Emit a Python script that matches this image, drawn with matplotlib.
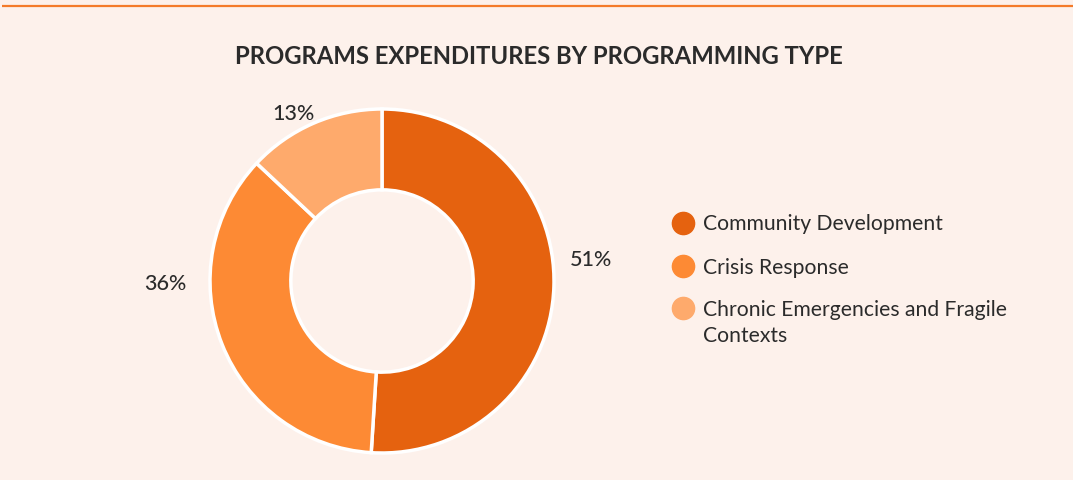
import matplotlib
matplotlib.use("Agg")
import matplotlib.pyplot as plt

# Programme expenditure shares by programming type
categories = ["Community Development", "Crisis Response",
              "Chronic Emergencies and Fragile\nContexts"]
shares = [51, 36, 13]
colors = ["#E5620F", "#FD8A34", "#FEAA6C"]

BG = "#FDF1EB"
TEXT = "#2B2B2B"

plt.rcParams["font.family"] = ["Lato", "DejaVu Sans"]

W, H = 1073, 480
fig = plt.figure(figsize=(W / 100, H / 100), dpi=100, facecolor=BG)

# Donut axes: centre (382, 281) px, outer radius 172 px
cx, cy, r = 382, 281, 172
ax = fig.add_axes([(cx - r) / W, (H - cy - r) / H, 2 * r / W, 2 * r / H])
ax.set_facecolor("none")
wedges, _ = ax.pie(shares, colors=colors, startangle=90, counterclock=False,
                   radius=1.0,
                   wedgeprops=dict(width=0.47, edgecolor="white", linewidth=2.5))
ax.set_xlim(-1, 1)
ax.set_ylim(-1, 1)
ax.set_aspect("equal")
ax.axis("off")

# Percentage labels outside the ring
label_pos = [(1.215, 0.122), (-1.262, -0.020), (-0.517, 0.972)]
for v, (lx, ly) in zip(shares, label_pos):
    ax.text(lx, ly, f"{v}%", ha="center", va="center", fontsize=15.5,
            fontweight="medium", color=TEXT, clip_on=False)

# Overlay in pixel coordinates for title, rule and legend
ov = fig.add_axes([0, 0, 1, 1], zorder=-1)
ov.set_xlim(0, W)
ov.set_ylim(H, 0)
ov.axis("off")
ov.plot([2, W], [5.5, 5.5], color="#F47B2A", linewidth=1.6, solid_capstyle="butt")

fig.text(539 / W, 1 - 57 / H, "PROGRAMS EXPENDITURES BY PROGRAMMING TYPE",
         ha="center", va="center", fontsize=17.2, fontweight="bold", color=TEXT)

leg = fig.add_axes([0, 0, 1, 1])
leg.set_xlim(0, W)
leg.set_ylim(H, 0)
leg.axis("off")
row_y = [223, 266, 308]
for name, col, y in zip(categories, colors, row_y):
    leg.plot([683], [y], marker="o", markersize=16, color=col, linestyle="none")
    lines = name.split("\n")
    for k, line in enumerate(lines):
        leg.text(703, y + 1.5 + 27 * k, line, ha="left", va="center",
                 fontsize=15.2, color=TEXT)

fig.savefig("out.png", dpi=100, facecolor=BG)
